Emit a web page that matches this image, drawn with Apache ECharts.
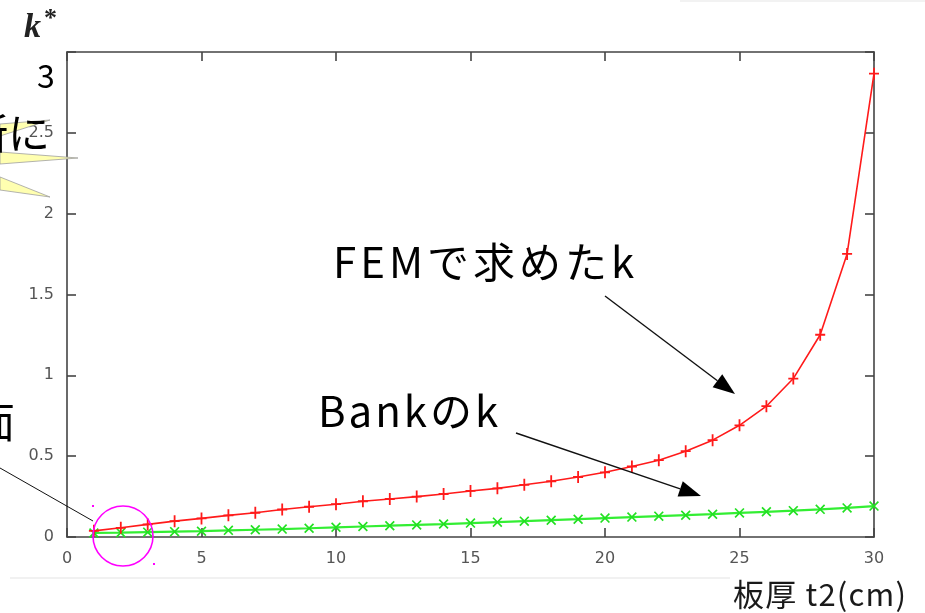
<!DOCTYPE html>
<html>
<head>
<meta charset="utf-8">
<script src="https://cdn.jsdelivr.net/npm/echarts@6/dist/echarts.min.js"></script>
<style>
  html, body { margin: 0; padding: 0; background: #ffffff; }
  #chart { width: 925px; height: 613px; }
</style>
</head>
<body>
<div id="chart"></div>
<script>
// Plate thickness t2 (cm)
const thickness = [1,2,3,4,5,6,7,8,9,10,11,12,13,14,15,16,17,18,19,20,21,22,23,24,25,26,27,28,29,30];
// k obtained by FEM
const kFem = [0.038,0.057,0.078,0.098,0.115,0.134,0.150,0.170,0.187,0.203,
              0.221,0.235,0.250,0.266,0.285,0.301,0.323,0.345,0.371,0.400,
              0.436,0.475,0.531,0.599,0.691,0.809,0.980,1.251,1.751,2.866];
// k after Bank
const kBank = [0.025,0.027,0.030,0.033,0.036,0.041,0.045,0.049,0.054,0.060,
               0.065,0.070,0.075,0.080,0.086,0.092,0.098,0.104,0.110,0.117,
               0.123,0.129,0.135,0.141,0.149,0.156,0.163,0.171,0.180,0.191];
// Axis ticks
const xTicks = [0, 5, 10, 15, 20, 25, 30];
const yTicks = [0, 0.5, 1, 1.5, 2, 2.5, 3];

const plusPath = 'path://M4.1,0h1.8v12h-1.8z M0,5.1h10v1.8h-10z';
const crossPath = 'path://M0,1.2L1.2,0L10,8.8L8.8,10z M8.8,0L10,1.2L1.2,10L0,8.8z';

function arrow(x1, y1, x2, y2, len, half) {
  const dx = x2 - x1, dy = y2 - y1, d = Math.hypot(dx, dy);
  const ux = dx / d, uy = dy / d;
  const bx = x2 - ux * len, by = y2 - uy * len;
  return [
    { type: 'line', shape: { x1: x1, y1: y1, x2: bx, y2: by },
      style: { stroke: '#111', lineWidth: 1.4 }, z: 20 },
    { type: 'polygon',
      shape: { points: [[x2, y2], [bx - uy * half, by + ux * half], [bx + uy * half, by - ux * half]] },
      style: { fill: '#000' }, z: 20 }
  ];
}

// Text with extra spacing between characters, as one rich-text element
function spaced(str) {
  return Array.from(str).map(c => '{c|' + c + '}').join('');
}

const cjk = '"Noto Sans CJK JP", "Noto Sans", sans-serif';
const tickFont = '"DejaVu Sans", sans-serif';

function spacedText(x, y, str, size, gap, color) {
  return { type: 'text', x: x, y: y, z: 10,
    style: { text: spaced(str), align: 'left', verticalAlign: 'middle',
      rich: { c: { fontSize: size, fontFamily: cjk, fill: color, padding: [0, gap, 0, 0] } } } };
}

const chart = echarts.init(document.getElementById('chart'), null, { renderer: 'canvas' });

const graphics = [
  // callout pointers coming in from the left
  { type: 'polygon', shape: { points: [[0, 124], [50, 120], [0, 136]] },
    style: { fill: '#ffffb0', stroke: '#a0a0a0', lineWidth: 0.8 }, z: 5 },
  { type: 'polygon', shape: { points: [[0, 152], [78, 158], [0, 164]] },
    style: { fill: '#ffffb0', stroke: '#a0a0a0', lineWidth: 0.8 }, z: 5 },
  { type: 'polygon', shape: { points: [[0, 177], [50, 197], [0, 190]] },
    style: { fill: '#ffffb0', stroke: '#a0a0a0', lineWidth: 0.8 }, z: 5 },
  { type: 'text', x: 50, y: 133, z: 10,
    style: { text: '箇所に', fontSize: 42, fontFamily: cjk, fill: '#000', align: 'right', verticalAlign: 'middle' } },
  { type: 'text', x: 15, y: 422, z: 10,
    style: { text: '面', fontSize: 42, fontFamily: cjk, fill: '#000', align: 'right', verticalAlign: 'middle' } },
  { type: 'text', x: 46, y: 76, z: 10,
    style: { text: '3', fontSize: 32, fontFamily: cjk, fill: '#000', align: 'center', verticalAlign: 'middle' } },
  // axis label k*
  { type: 'text', x: 24, y: 28, z: 10,
    style: {
      text: '{k|k}{s|*}',
      verticalAlign: 'middle',
      rich: {
        k: { fontSize: 34, fontFamily: '"Liberation Serif", serif', fontStyle: 'italic', fontWeight: 'bold', fill: '#222' },
        s: { fontSize: 26, fontFamily: '"Liberation Serif", serif', fontWeight: 'bold', fill: '#222', verticalAlign: 'top', padding: [0, 0, 18, 3] }
      }
    } },
  // x axis title
  spacedText(733, 594, '板厚 t2(cm)', 31, 1.2, '#1a1a1a'),
  // series annotations
  spacedText(333, 262, 'FEMで求めたk', 42, 4, '#000'),
  spacedText(318, 411, 'Bankのk', 42, 3, '#000'),
  // leader line to the highlighted region
  { type: 'line', shape: { x1: 0, y1: 468, x2: 93, y2: 521 }, style: { stroke: '#111', lineWidth: 1 }, z: 20 },
  { type: 'circle', shape: { cx: 123, cy: 536, r: 30 }, style: { fill: 'none', stroke: '#ff00ff', lineWidth: 1.6 }, z: 20 },
  { type: 'rect', shape: { x: 92, y: 505, width: 2, height: 2 }, style: { fill: '#ff00ff' }, z: 20 },
  { type: 'rect', shape: { x: 153, y: 563, width: 2, height: 2 }, style: { fill: '#ff00ff' }, z: 20 },
  // faint page edges
  { type: 'line', shape: { x1: 10, y1: 578, x2: 730, y2: 578 }, style: { stroke: '#ececec', lineWidth: 1.5 }, z: 1 },
  { type: 'line', shape: { x1: 680, y1: 1, x2: 925, y2: 1 }, style: { stroke: '#eeeeee', lineWidth: 1.5 }, z: 1 }
].concat(arrow(605, 296, 735, 394, 22, 8), arrow(516, 433, 701, 496, 22, 8));

// Frame axis: ticks point into the plot area
function frameAxis(extra) {
  return Object.assign({
    type: 'value',
    axisLine: { show: true, onZero: false, lineStyle: { color: '#444', width: 1.6 } },
    axisTick: { show: true, inside: true, length: 9, lineStyle: { color: '#444', width: 1.6 } },
    splitLine: { show: false }
  }, extra);
}

chart.setOption({
  backgroundColor: '#ffffff',
  animation: false,
  grid: { left: 67, right: 51, top: 52, bottom: 76, containLabel: false },
  xAxis: [
    frameAxis({ position: 'bottom', min: xTicks[0], max: xTicks[xTicks.length - 1], interval: 5,
      axisLabel: { color: '#555', fontSize: 16, fontFamily: tickFont, margin: 14 } }),
    frameAxis({ position: 'top', min: xTicks[0], max: xTicks[xTicks.length - 1], interval: 5,
      axisLabel: { show: false } })
  ],
  yAxis: [
    frameAxis({ position: 'left', min: yTicks[0], max: yTicks[yTicks.length - 1], interval: 0.5,
      axisLabel: { color: '#555', fontSize: 16, fontFamily: tickFont, margin: 13,
        formatter: function (v) { return v === 3 ? '' : String(v); } } }),
    frameAxis({ position: 'right', min: yTicks[0], max: yTicks[yTicks.length - 1], interval: 0.5,
      axisLabel: { show: false } })
  ],
  series: [
    { name: 'FEM', type: 'line', xAxisIndex: 0, yAxisIndex: 0,
      data: thickness.map((t, i) => [t, kFem[i]]),
      lineStyle: { color: '#ff1a1a', width: 1.6 },
      itemStyle: { color: '#ff1a1a' },
      symbol: plusPath, symbolSize: [10, 12], showAllSymbol: true, z: 3 },
    { name: 'Bank', type: 'line', xAxisIndex: 0, yAxisIndex: 0,
      data: thickness.map((t, i) => [t, kBank[i]]),
      lineStyle: { color: '#33ee33', width: 2.2 },
      itemStyle: { color: '#22e022' },
      symbol: crossPath, symbolSize: 10, showAllSymbol: true, z: 2 }
  ],
  graphic: graphics
});
</script>
</body>
</html>
